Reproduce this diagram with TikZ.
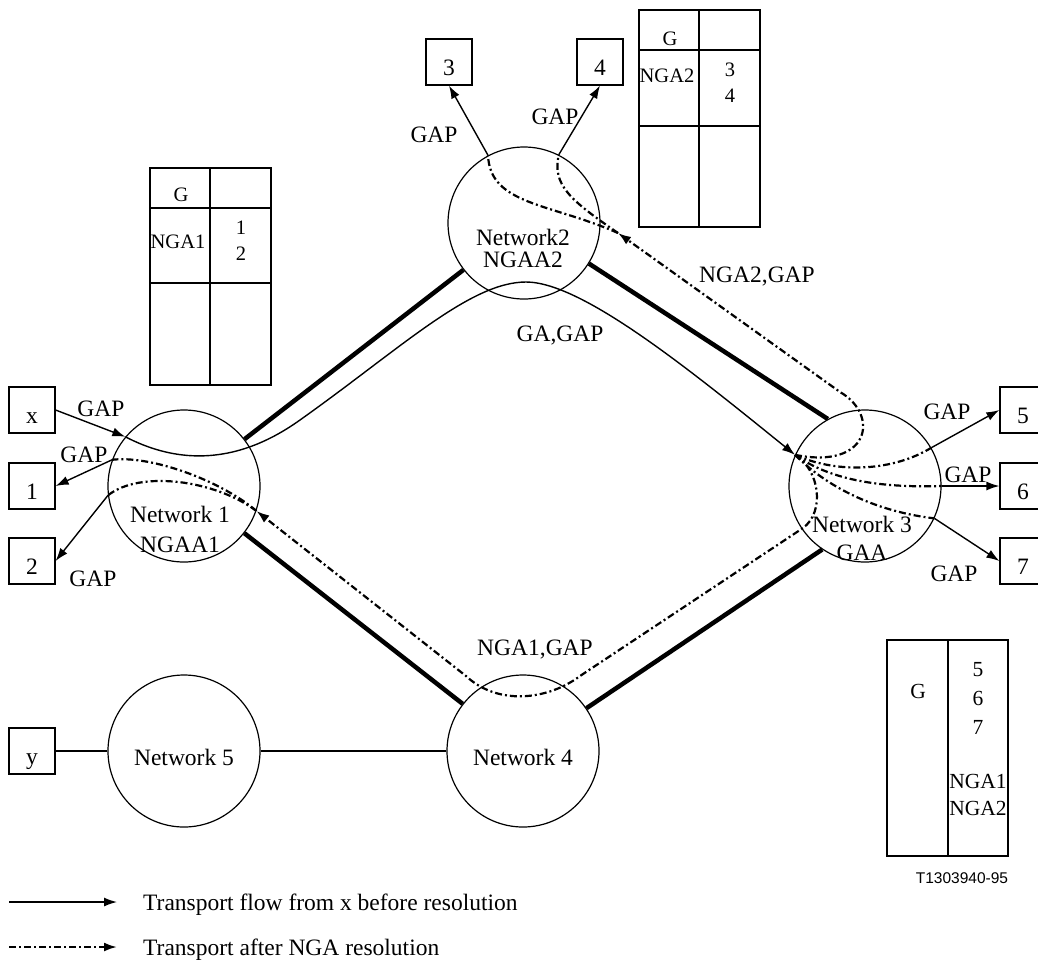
\documentclass[tikz,border=0pt]{standalone}
\usepackage{fontspec}
\setmainfont{Liberation Serif}
\newfontfamily\tagfont{Liberation Sans}
\usetikzlibrary{arrows.meta}

\tikzset{
    net/.style={draw, circle, line width=1.2pt, minimum size=152pt, inner sep=0pt},
    endbox/.style={draw, rectangle, line width=1.2pt, minimum size=46pt, inner sep=0pt, text height=26pt, text depth=0pt},
    nettext/.style={align=center, inner sep=0pt},
    gap/.style={inner sep=0pt},
    cell/.style={inner sep=0pt, font=\fontsize{20.5}{28}\selectfont},
    link/.style={line width=4.5pt},
    plain/.style={line width=1.2pt},
    flowa/.style={line width=1.4pt},
    flowb/.style={line width=2.2pt, dash pattern=on 7pt off 3pt on 2pt off 3pt},
    >={Latex[length=13pt,width=9pt]},
}

\begin{document}
\begin{tikzpicture}[x=1pt, y=-1pt, font=\fontsize{23.5}{29}\selectfont]
    \path[use as bounding box, fill=white] (0,0) rectangle (1038,962);

    \node[net] at (184, 486) (net1) {};
    \node[net] at (524, 223) (net2) {};
    \node[net] at (865, 486) (net3) {};
    \node[net] at (523, 751) (net4) {};
    \node[net] at (184, 751) (net5) {};
    \node[nettext] at (180, 529) (lab1) {Network 1\\[1pt]NGAA1};
    \node[nettext] at (523, 248) (lab2) {Network2\\[-7pt]NGAA2};
    \node[nettext] at (862, 538) (lab3) {Network 3\\[-1pt]GAA};
    \node[nettext] at (523, 757) (lab4) {Network 4};
    \node[nettext] at (184, 757) (lab5) {Network 5};

    \node[endbox] at (32, 410) (bx) {x};
    \node[endbox] at (32, 486) (b1) {1};
    \node[endbox] at (32, 561) (b2) {2};
    \node[endbox] at (449, 62) (b3) {3};
    \node[endbox] at (600, 62) (b4) {4};
    \node[endbox] at (1023, 410) (b5) {5};
    \node[endbox] at (1023, 486) (b6) {6};
    \node[endbox] at (1023, 561) (b7) {7};
    \node[endbox] at (32, 751) (by) {y};

    \draw[link] (net1) -- (net2);
    \draw[link] (net1) -- (net4);
    \draw[link] (net2.-32) -- (net3.119);
    \draw[link] (net4.34) -- (net3.236);
    \draw[plain] (by) -- (net5);
    \draw[plain] (net5) -- (net4);

    % flow from x before resolution
    \draw[flowa, ->] (bx.east) -- (net1.140);
    \draw[flowa, ->] (net1.140) .. controls (170, 460) and (230, 470) .. (300, 420)
        .. controls (400, 349) and (470, 282) .. (526, 282)
        .. controls (582, 282) and (690, 370) .. (net3.156);
    \draw[flowa, ->] (net1.160) -- (b1.east);
    \draw[flowa, ->] (net1.187) -- (b2.east);
    \draw[flowa, ->] (net2.118) -- (b3.south);
    \draw[flowa, ->] (net2.63) -- (b4.south);
    \draw[flowa, ->] (net3.30) -- (b5.west);
    \draw[flowa, ->] (net3.0) -- (b6.west);
    \draw[flowa, ->] (net3.-25) -- (b7.west);

    % flow after NGA resolution
    \coordinate (tip2) at (618, 233);
    \draw[flowb] (net3.156) .. controls (840, 475) and (895, 470) .. (net3.30);
    \draw[flowb] (net3.156) .. controls (830, 480) and (880, 488) .. (net3.0);
    \draw[flowb] (net3.156) .. controls (830, 490) and (880, 512) .. (net3.-25);
    \draw[flowb, ->] (net3.156) .. controls (870, 470) and (880, 415) .. (840, 392) -- (tip2);
    \draw[flowb] (tip2) .. controls (550, 203) and (490, 205) .. (net2.118);
    \draw[flowb] (tip2) .. controls (570, 200) and (552, 185) .. (net2.63);
    \draw[flowb, ->] (net3.156) .. controls (820, 470) and (825, 512) .. (803, 528) -- (580, 676)
        .. controls (548, 700) and (498, 706) .. (466, 676) -- (net1.-19);
    \draw[flowb] (net1.-19) .. controls (220, 480) and (150, 455) .. (net1.160);
    \draw[flowb] (net1.-19) .. controls (215, 480) and (140, 470) .. (net1.187);

    \node[gap] at (101, 409) (gx) {GAP};
    \node[gap] at (84, 455) (g1) {GAP};
    \node[gap] at (93, 579) (g2) {GAP};
    \node[gap] at (434, 135) (g3) {GAP};
    \node[gap] at (555, 117) (g4) {GAP};
    \node[gap] at (947, 412) (g5) {GAP};
    \node[gap] at (968, 475) (g6) {GAP};
    \node[gap] at (954, 574) (g7) {GAP};
    \node[gap] at (560, 336) (gagap) {GA,GAP};
    \node[gap] at (757, 277) (nga2gap) {NGA2,GAP};
    \node[gap] at (535, 650) (nga1gap) {NGA1,GAP};

    % tables
    \draw[plain] (150, 168) rectangle (271, 385);
    \draw[plain] (210, 168) -- (210, 385) (150, 208) -- (271, 208) (150, 283) -- (271, 283);
    \node[cell] at (181, 195) (t1g) {G};
    \node[cell] at (178, 242) (t1n) {NGA1};
    \node[cell] at (241, 228) (t1a) {1};
    \node[cell] at (241, 254) (t1b) {2};

    \draw[plain] (639, 10) rectangle (760, 227);
    \draw[plain] (699, 10) -- (699, 227) (639, 50) -- (760, 50) (639, 126) -- (760, 126);
    \node[cell] at (670, 39) (t2g) {G};
    \node[cell] at (667, 76) (t2n) {NGA2};
    \node[cell] at (730, 70) (t2a) {3};
    \node[cell] at (730, 96) (t2b) {4};

    \draw[plain] (887, 640) rectangle (1008, 856);
    \draw[plain] (948, 640) -- (948, 856);
    \node[cell, font=\fontsize{21.5}{28}\selectfont] at (918, 691) (t3g) {G};
    \node[cell, font=\fontsize{21.5}{28}\selectfont] at (978, 670) (t3a) {5};
    \node[cell, font=\fontsize{21.5}{28}\selectfont] at (978, 698) (t3b) {6};
    \node[cell, font=\fontsize{21.5}{28}\selectfont] at (978, 727) (t3c) {7};
    \node[cell, font=\fontsize{21.5}{28}\selectfont] at (978, 781) (t3n) {NGA1};
    \node[cell, font=\fontsize{21.5}{28}\selectfont] at (978, 808) (t3m) {NGA2};
    \node[inner sep=0pt, font=\tagfont\fontsize{15.5}{18}\selectfont] at (962, 878) (tag) {T1303940-95};

    % legend
    \coordinate (leg1a) at (9, 902);
    \coordinate (leg1b) at (117, 902);
    \coordinate (leg2a) at (9, 947);
    \coordinate (leg2b) at (117, 947);
    \draw[flowa, ->] (leg1a) -- (leg1b);
    \draw[flowb, ->] (leg2a) -- (leg2b);
    \node[anchor=west, inner sep=0pt] at (143, 905) (leg1) {Transport flow from x before resolution};
    \node[anchor=west, inner sep=0pt] at (143, 950) (leg2) {Transport after NGA resolution};
\end{tikzpicture}
\end{document}
